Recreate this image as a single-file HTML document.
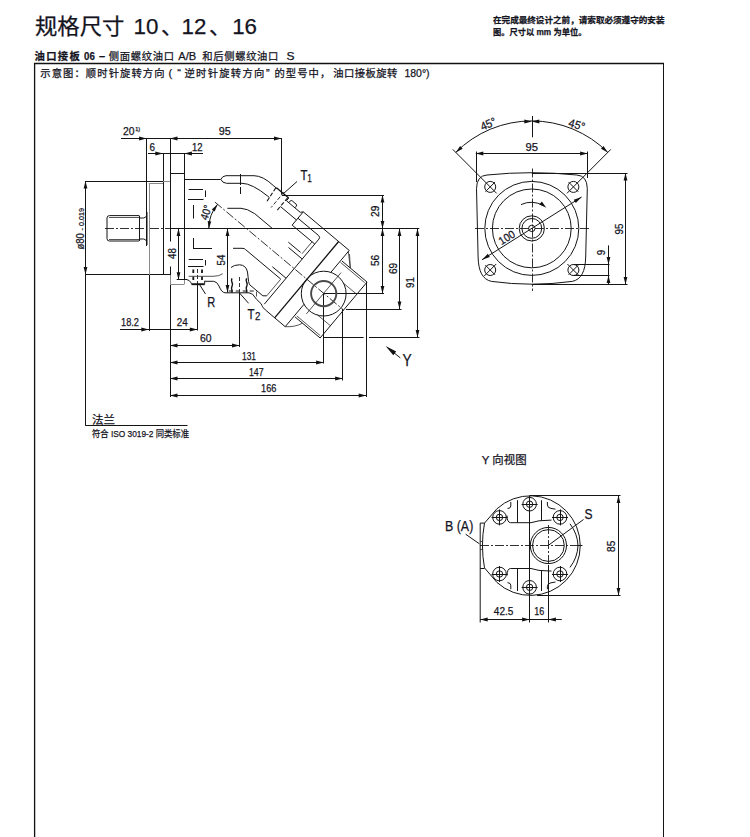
<!DOCTYPE html>
<html lang="zh"><head><meta charset="utf-8"><title>规格尺寸 10、12、16</title>
<style>
html,body{margin:0;padding:0;background:#fff}
body{width:750px;height:837px;overflow:hidden;font-family:"Liberation Sans","Noto Sans CJK SC",sans-serif}
svg{display:block}
.l{stroke:#151515;stroke-width:1;fill:none;stroke-linecap:butt}
.k{stroke:#111;stroke-width:1.3;fill:none}
.n{stroke:#2a2a2a;stroke-width:.8;fill:none}
.g{stroke:#8a8a8a;stroke-width:1;fill:none}
.d{stroke:#1a1a1a;stroke-width:.9;fill:none;stroke-dasharray:9 2 2 2}
.h{stroke:#1a1a1a;stroke-width:.9;fill:none;stroke-dasharray:4 2}
.a{fill:#111;stroke:none}
.t{fill:#14141e;stroke:#14141e;stroke-width:.25px;font-family:"Liberation Sans","Noto Sans CJK SC",sans-serif}
.b{font-weight:bold}
</style></head><body>
<svg width="750" height="837" viewBox="0 0 750 837">
<rect x="0" y="0" width="750" height="837" fill="#fff"/>
<line class="k" x1="34.6" y1="63" x2="34.6" y2="837" style="stroke-width:1.3"/>
<line class="k" x1="34" y1="63.5" x2="664" y2="63.5" style="stroke-width:1.3"/>
<line class="l" x1="663.5" y1="63" x2="663.5" y2="837"/>
<text class="t" x="35" y="34.3" font-size="22" textLength="89.5" lengthAdjust="spacingAndGlyphs">规格尺寸</text>
<text class="t" x="133.6" y="33.8" font-size="22.5" textLength="24.8" lengthAdjust="spacingAndGlyphs">10</text>
<text class="t" x="161" y="34.3" font-size="22">、</text>
<text class="t" x="181.6" y="33.8" font-size="22.5" textLength="24.8" lengthAdjust="spacingAndGlyphs">12</text>
<text class="t" x="209" y="34.3" font-size="22">、</text>
<text class="t" x="232.2" y="33.8" font-size="22.5" textLength="24.8" lengthAdjust="spacingAndGlyphs">16</text>
<text class="t b" x="34.6" y="59.5" font-size="10.3" textLength="45.1" lengthAdjust="spacing">油口接板</text>
<text class="t b" x="84" y="59.5" font-size="11" textLength="10.8" lengthAdjust="spacingAndGlyphs">06</text>
<text class="t b" x="99" y="59.5" font-size="11">–</text>
<text class="t" x="108.7" y="59.5" font-size="10.3" textLength="65.3" lengthAdjust="spacing">侧面螺纹油口</text>
<text class="t" x="178.3" y="59.5" font-size="11" textLength="18" lengthAdjust="spacingAndGlyphs">A/B</text>
<text class="t" x="202.2" y="59.5" font-size="10.3" textLength="76.2" lengthAdjust="spacing">和后侧螺纹油口</text>
<text class="t" x="286.6" y="59.5" font-size="11" textLength="8" lengthAdjust="spacingAndGlyphs">S</text>
<text class="t" x="40.3" y="77" font-size="10.3" textLength="124.2" lengthAdjust="spacing">示意图：顺时针旋转方向</text>
<text class="t" x="168.5" y="77" font-size="11">(</text>
<text class="t" x="177.3" y="77" font-size="11">“</text>
<text class="t" x="184.5" y="77" font-size="10.3" textLength="79.8" lengthAdjust="spacing">逆时针旋转方向</text>
<text class="t" x="266" y="77" font-size="11">”</text>
<text class="t" x="274.4" y="77" font-size="10.3" textLength="55.8" lengthAdjust="spacing">的型号中，</text>
<text class="t" x="333.2" y="77" font-size="10.3" textLength="64.2" lengthAdjust="spacing">油口接板旋转</text>
<text class="t" x="404.4" y="77" font-size="11" textLength="25.2" lengthAdjust="spacingAndGlyphs">180°)</text>
<text class="t b" x="493" y="23.3" font-size="8.5" textLength="171.5" lengthAdjust="spacingAndGlyphs">在完成最终设计之前，请索取必须遵守的安装</text>
<text class="t b" x="493" y="34.5" font-size="8.5" textLength="93.5" lengthAdjust="spacingAndGlyphs">图。尺寸以 mm 为单位。</text>
<line class="l" x1="121" y1="138.5" x2="281.5" y2="138.5"/>
<line class="l" x1="146.5" y1="138" x2="146.5" y2="246"/>
<line class="l" x1="170.5" y1="138" x2="170.5" y2="241.5"/>
<line class="l" x1="170.5" y1="266.5" x2="170.5" y2="397"/>
<line class="l" x1="281.5" y1="138" x2="281.5" y2="194.5"/>
<polygon class="a" points="146.6,138.5 139.1,140.4 139.1,136.6"/>
<polygon class="a" points="170,138.5 177.5,136.6 177.5,140.4"/>
<polygon class="a" points="281.5,138.5 274,140.4 274,136.6"/>
<text class="t" x="123" y="135" font-size="11" textLength="11.5" lengthAdjust="spacingAndGlyphs">20</text>
<text class="t" x="135.3" y="130.5" font-size="5.5">1)</text>
<text class="t" x="218.7" y="135" font-size="11" textLength="12" lengthAdjust="spacingAndGlyphs">95</text>
<line class="l" x1="148" y1="153.5" x2="203" y2="153.5"/>
<line class="l" x1="163.5" y1="153" x2="163.5" y2="275"/>
<line class="l" x1="184.5" y1="153" x2="184.5" y2="173"/>
<line class="l" x1="170" y1="173.5" x2="184.4" y2="173.5"/>
<polygon class="a" points="162.8,153.5 155.3,155.4 155.3,151.6"/>
<polygon class="a" points="184.4,153.5 191.9,151.6 191.9,155.4"/>
<text class="t" x="149.5" y="150.7" font-size="11" textLength="5.5" lengthAdjust="spacingAndGlyphs">6</text>
<text class="t" x="192" y="150.7" font-size="11" textLength="10.5" lengthAdjust="spacingAndGlyphs">12</text>
<line class="l" x1="85.5" y1="181" x2="85.5" y2="425.5"/>
<line class="l" x1="85" y1="181.5" x2="163" y2="181.5"/>
<line class="g" x1="163" y1="181.5" x2="170" y2="181.5"/>
<line class="l" x1="85" y1="274.5" x2="170" y2="274.5"/>
<polygon class="a" points="85.5,181 87.4,188.5 83.6,188.5"/>
<polygon class="a" points="85.5,274.4 83.6,266.9 87.4,266.9"/>
<text class="t" transform="translate(84,249.5) rotate(-90)" font-size="10.5" textLength="41.5" lengthAdjust="spacingAndGlyphs">ø80 <tspan font-size="8" dy="-0.5">- 0.019</tspan></text>
<line class="d" x1="105" y1="228.5" x2="170" y2="228.5"/>
<line class="l" x1="170" y1="228.5" x2="419.3" y2="228.5"/>
<line class="l" x1="178.5" y1="228.4" x2="178.5" y2="279.7"/>
<polygon class="a" points="178.5,228.4 180.4,235.9 176.6,235.9"/>
<polygon class="a" points="178.5,279.7 176.6,272.2 180.4,272.2"/>
<text class="t" x="176" y="253.6" font-size="10.5" text-anchor="middle" transform="rotate(-90 176 253.6)" textLength="10.8" lengthAdjust="spacingAndGlyphs">48</text>
<line class="l" x1="227.5" y1="228.4" x2="227.5" y2="292.5"/>
<polygon class="a" points="227.5,228.4 229.4,235.9 225.6,235.9"/>
<polygon class="a" points="227.5,292.5 225.6,285 229.4,285"/>
<text class="t" x="225" y="260" font-size="10.5" text-anchor="middle" transform="rotate(-90 225 260)" textLength="10.8" lengthAdjust="spacingAndGlyphs">54</text>
<line class="l" x1="282" y1="195.5" x2="384" y2="195.5"/>
<line class="l" x1="382.5" y1="195" x2="382.5" y2="293.4"/>
<polygon class="a" points="382.5,195 384.4,202.5 380.6,202.5"/>
<polygon class="a" points="382.5,228.4 380.6,220.9 384.4,220.9"/>
<polygon class="a" points="382.5,228.4 384.4,235.9 380.6,235.9"/>
<polygon class="a" points="382.5,293.4 380.6,285.9 384.4,285.9"/>
<text class="t" x="379" y="211.2" font-size="10.5" text-anchor="middle" transform="rotate(-90 379 211.2)" textLength="11.4" lengthAdjust="spacingAndGlyphs">29</text>
<text class="t" x="379" y="260.5" font-size="10.5" text-anchor="middle" transform="rotate(-90 379 260.5)" textLength="11.2" lengthAdjust="spacingAndGlyphs">56</text>
<line class="l" x1="323.5" y1="293.5" x2="384" y2="293.5"/>
<line class="l" x1="399.5" y1="228.4" x2="399.5" y2="309"/>
<polygon class="a" points="399.5,228.4 401.4,235.9 397.6,235.9"/>
<polygon class="a" points="399.5,309 397.6,301.5 401.4,301.5"/>
<line class="l" x1="346" y1="309.5" x2="401.5" y2="309.5"/>
<text class="t" x="396.6" y="268.4" font-size="10.5" text-anchor="middle" transform="rotate(-90 396.6 268.4)" textLength="11.2" lengthAdjust="spacingAndGlyphs">69</text>
<line class="l" x1="417.5" y1="228.4" x2="417.5" y2="337.6"/>
<polygon class="a" points="417.5,228.4 419.4,235.9 415.6,235.9"/>
<polygon class="a" points="417.5,337.6 415.6,330.1 419.4,330.1"/>
<line class="l" x1="323.6" y1="337.5" x2="363.6" y2="337.5"/>
<line class="l" x1="369" y1="337.5" x2="419.5" y2="337.5"/>
<text class="t" x="414.4" y="282.6" font-size="10.5" text-anchor="middle" transform="rotate(-90 414.4 282.6)" textLength="10.8" lengthAdjust="spacingAndGlyphs">91</text>
<line class="l" x1="120" y1="329.5" x2="197.3" y2="329.5"/>
<line class="l" x1="149.5" y1="275" x2="149.5" y2="331"/>
<line class="g" x1="149.5" y1="183" x2="149.5" y2="275"/>
<line class="l" x1="197.5" y1="284" x2="197.5" y2="330.5"/>
<polygon class="a" points="148.8,329.5 141.3,331.4 141.3,327.6"/>
<polygon class="a" points="197.3,329.5 189.8,331.4 189.8,327.6"/>
<text class="t" x="121" y="325.5" font-size="11" textLength="18" lengthAdjust="spacingAndGlyphs">18.2</text>
<text class="t" x="176.7" y="325.5" font-size="11" textLength="11" lengthAdjust="spacingAndGlyphs">24</text>
<line class="l" x1="170" y1="345.5" x2="239.5" y2="345.5"/>
<polygon class="a" points="170,345.5 177.5,343.6 177.5,347.4"/>
<polygon class="a" points="239.5,345.5 232,347.4 232,343.6"/>
<line class="l" x1="239.5" y1="293" x2="239.5" y2="347"/>
<text class="t" x="200" y="342.4" font-size="11" textLength="11.6" lengthAdjust="spacingAndGlyphs">60</text>
<line class="l" x1="170" y1="362.5" x2="323.6" y2="362.5"/>
<polygon class="a" points="170,362.5 177.5,360.6 177.5,364.4"/>
<polygon class="a" points="323.6,362.5 316.1,364.4 316.1,360.6"/>
<line class="l" x1="323.5" y1="293.4" x2="323.5" y2="363.5"/>
<text class="t" x="242" y="359.8" font-size="11" textLength="14" lengthAdjust="spacingAndGlyphs">131</text>
<line class="l" x1="170" y1="378.5" x2="342.6" y2="378.5"/>
<polygon class="a" points="170,378.5 177.5,376.6 177.5,380.4"/>
<polygon class="a" points="342.6,378.5 335.1,380.4 335.1,376.6"/>
<line class="l" x1="342.5" y1="309" x2="342.5" y2="380.5"/>
<text class="t" x="249" y="375.7" font-size="11" textLength="14.6" lengthAdjust="spacingAndGlyphs">147</text>
<line class="l" x1="170" y1="395.5" x2="366.2" y2="395.5"/>
<polygon class="a" points="170,395.5 177.5,393.6 177.5,397.4"/>
<polygon class="a" points="366.2,395.5 358.7,397.4 358.7,393.6"/>
<line class="l" x1="366.5" y1="282" x2="366.5" y2="397"/>
<text class="t" x="261" y="392" font-size="11" textLength="15.4" lengthAdjust="spacingAndGlyphs">166</text>
<line class="l" x1="85.3" y1="425.5" x2="187.5" y2="425.5"/>
<text class="t" x="92" y="423.8" font-size="11" textLength="23" lengthAdjust="spacingAndGlyphs">法兰</text>
<text class="t" x="92" y="437" font-size="9.5" textLength="97" lengthAdjust="spacingAndGlyphs">符合 ISO 3019-2 同类标准</text>
<line class="l" x1="394" y1="352.8" x2="400.3" y2="357.9"/>
<polygon class="a" points="385.6,345.9 396.2,351.58 393.29,355.14"/>
<text class="t" x="402.6" y="366.4" font-size="17" textLength="9.2" lengthAdjust="spacingAndGlyphs">Y</text>
<text class="t" x="207.2" y="306.5" font-size="14.5" textLength="8" lengthAdjust="spacingAndGlyphs">R</text>
<line class="l" x1="199" y1="283.7" x2="205.5" y2="294"/>
<text class="t" x="247.6" y="318.5" font-size="14.5" textLength="7" lengthAdjust="spacingAndGlyphs">T</text>
<text class="t" x="255" y="320.3" font-size="11.5" textLength="5.4" lengthAdjust="spacingAndGlyphs">2</text>
<line class="l" x1="239.5" y1="293" x2="248.6" y2="303.3"/>
<text class="t" x="300.5" y="179.6" font-size="14.5" textLength="7" lengthAdjust="spacingAndGlyphs">T</text>
<text class="t" x="307.2" y="182.3" font-size="11" textLength="4.6" lengthAdjust="spacingAndGlyphs">1</text>
<line class="l" x1="297" y1="181.5" x2="283" y2="194"/>
<path class="l" d="M139,215.6 H109.5 Q107,215.6 107,218 V238.6 Q107,241 109.5,241 H139"/>
<line class="n" x1="109" y1="217.5" x2="139" y2="217.5"/>
<line class="n" x1="109" y1="239.5" x2="139" y2="239.5"/>
<line class="l" x1="139.5" y1="215.6" x2="139.5" y2="241"/>
<path class="l" d="M139,218 H143.5 Q147,217.5 147.6,212"/>
<path class="l" d="M139,239 H143.5 Q147,239.5 147.6,245"/>
<line class="g" x1="147.5" y1="212" x2="147.5" y2="245"/>
<line class="g" x1="148.8" y1="183.5" x2="163" y2="183.5"/>
<line class="g" x1="170" y1="284.5" x2="184.4" y2="284.5"/>
<line class="g" x1="184.5" y1="279.7" x2="184.5" y2="284"/>
<line class="g" x1="170.5" y1="275" x2="170.5" y2="284"/>
<line class="l" x1="184.5" y1="173" x2="184.5" y2="280"/>
<line class="l" x1="184.6" y1="179.5" x2="220.5" y2="179.5"/>
<line class="l" x1="176.7" y1="279.5" x2="187" y2="279.5"/>
<path class="l" d="M220.8,179.4 Q222.3,176 226,175.7 H254 Q263,175.8 273.21,185.45 L277.04,188.66"/>
<path class="l" d="M220.8,179.4 Q222.3,183 226.5,183.3 H242 Q252,183.4 267.98,196.34 L269.52,197.62"/>
<line class="l" x1="240.5" y1="174" x2="240.5" y2="185"/>
<line class="l" x1="240.5" y1="187" x2="240.5" y2="194"/>
<line class="k" x1="276.46" y1="187.79" x2="288.72" y2="198.07"/>
<line class="h" style="stroke-width:1.1" x1="275.76" y1="187.85" x2="266.68" y2="201.77"/>
<line class="h" x1="284.01" y1="192.17" x2="271.16" y2="207.49"/>
<line class="h" style="stroke-width:1.1" x1="287.63" y1="197.81" x2="276.7" y2="210.83"/>
<line class="l" x1="288.72" y1="198.07" x2="286.47" y2="200.75"/>
<line class="l" x1="286.47" y1="200.75" x2="300.26" y2="212.32"/>
<path class="l" d="M288.77,202.68 L290.25,200.92 Q291.08,199.92 292.23,200.89 L296.06,204.1 Q297.21,205.07 296.37,206.06 L294.9,207.82"/>
<line class="l" x1="300.26" y1="212.32" x2="303.27" y2="211.85"/>
<line class="l" x1="303.27" y1="211.85" x2="349.23" y2="250.41"/>
<line class="l" x1="280.37" y1="206.47" x2="296.46" y2="219.97"/>
<line class="l" x1="303.27" y1="211.85" x2="292.15" y2="225.1"/>
<path class="l" d="M297.93,218.2 L318.62,235.56 Q320.53,237.17 318.93,239.08 L264.29,304.2"/>
<line class="l" x1="292.15" y1="225.1" x2="314.75" y2="244.06"/>
<line class="n" x1="312.07" y1="241.81" x2="302.1" y2="253.68"/>
<line class="n" x1="280.57" y1="279.35" x2="266.75" y2="295.82"/>
<path class="l" d="M227.3,208.3 H241 Q247,208.4 254.74,213.68 L272.36,228.46"/>
<line class="l" x1="288.31" y1="242.11" x2="300.57" y2="252.4"/>
<line class="l" x1="288.5" y1="247.49" x2="302.21" y2="259"/>
<path class="l" d="M233,248.3 H242 Q245,248.4 245.52,249.55 L280.76,279.12"/>
<line class="l" x1="272.37" y1="266.72" x2="286.08" y2="278.23"/>
<line class="d" x1="214.89" y1="202.05" x2="343.59" y2="310.03"/>
<path class="l" d="M208.8,228.4 A37.5 37.5 0 0 1 217.57,204.3"/>
<polygon class="a" points="208.8,228.7 207.66,221.07 211.25,221.39"/>
<polygon class="a" points="217.57,204.3 214.75,211.47 211.8,209.41"/>
<text class="t" x="209.5" y="213.5" font-size="11" text-anchor="middle" transform="rotate(-72 209.5 213.5)" textLength="15" lengthAdjust="spacingAndGlyphs">40°</text>
<line class="l" x1="188.7" y1="189.5" x2="203" y2="189.5"/>
<line class="l" x1="205.5" y1="190.5" x2="205.5" y2="197"/>
<line class="l" x1="188" y1="199.5" x2="203.5" y2="199.5"/>
<line class="l" x1="193.5" y1="205" x2="193.5" y2="218.5"/>
<line class="l" x1="193.5" y1="238" x2="193.5" y2="249"/>
<line class="l" x1="193.5" y1="248.5" x2="212" y2="248.5"/>
<line class="l" x1="188.7" y1="259.5" x2="203" y2="259.5"/>
<line class="l" x1="205.5" y1="260" x2="205.5" y2="265.5"/>
<line class="l" x1="188" y1="266.5" x2="203.5" y2="266.5"/>
<path class="l" d="M193.3,269.5 V283 M202,269.5 V283" style="stroke-width:1.8;stroke-dasharray:3.4 3.6"/>
<line class="h" x1="197.5" y1="269" x2="197.5" y2="284"/>
<path class="l" d="M187,279.7 Q189.5,280 190.7,282.3 L191.5,283.8 H204.7 V281 L206,281.3 H213.5 Q217,281.5 219,286 Q221.5,292.5 225,292.8 H249 L252.7,294.3"/>
<line class="k" x1="191.5" y1="284.5" x2="204.7" y2="284.5"/>
<path class="n" d="M188.7,276.3 H213 Q219.5,276.3 222.7,273.7"/>
<path class="l" style="stroke-width:1.5" d="M232,278.3 q-1.2,2 0,4 q1.2,2 0,4 q-1.2,2 0,4 v2.5"/>
<line class="h" x1="239.5" y1="277" x2="239.5" y2="293"/>
<path class="l" style="stroke-width:1.5" d="M246.7,278.3 q-1.2,2 0,4 q1.2,2 0,4 q-1.2,2 0,4 v2.5"/>
<path class="l" d="M231,267.5 Q234,264.8 239.5,264.8 Q246,265 247.5,272 Q248.3,279 248.6,281.5 Q249,283.5 249.82,284.88 L262.84,295.8 L266.75,295.82"/>
<path class="l" d="M228.7,291 H254.5" style="stroke-dasharray:4 3"/>
<line class="n" x1="256.5" y1="291.5" x2="256.5" y2="296.5"/>
<path class="l" d="M252.7,294.3 L256.5,299.3 L261,303.6 Q262,305.5 262.6,306.8 Q263,307.5 265.36,309.92 L285.21,326.71"/>
<line class="k" x1="338.66" y1="241.54" x2="274.64" y2="317.84"/>
<path class="l" d="M349.23,250.41 L331.04,272.09"/>
<line class="l" x1="304.04" y1="304.27" x2="285.21" y2="326.71"/>
<path class="n" d="M348.3,251.3 L350.3,267.8 L349.5,254"/>
<line class="l" x1="342" y1="261.05" x2="367.05" y2="282.07"/>
<line class="n" x1="340.48" y1="262.39" x2="364.61" y2="282.64"/>
<line class="l" x1="295.08" y1="316.98" x2="320.13" y2="337.99"/>
<line class="n" x1="296.83" y1="315.97" x2="320.2" y2="335.57"/>
<line class="l" x1="367.05" y1="282.07" x2="320.13" y2="337.99"/>
<line class="n" x1="343.9" y1="283.53" x2="356.76" y2="294.33"/>
<line class="n" x1="317.54" y1="314.94" x2="330.41" y2="325.74"/>
<path class="n" d="M285.21,326.71 Q295,327.2 302.51,323.21"/>
<circle class="l" cx="323.7" cy="293.6" r="22.4"/>
<circle class="k" style="stroke:#4a4a4a;stroke-width:1.9" cx="323.7" cy="293.6" r="12.6"/>
<line class="n" x1="341.03" y1="272.64" x2="306.32" y2="314"/>
<line class="l" x1="532.5" y1="116" x2="532.5" y2="137.3"/>
<line class="d" x1="532.5" y1="168.5" x2="532.5" y2="291"/>
<line class="d" x1="475" y1="228.5" x2="590" y2="228.5"/>
<path class="l" d="M476.5,188.5 Q476.7,175.7 487,175 Q531.8,170.4 576.8,175 Q587.1,175.7 587.3,188.5 L585.7,257 C585.3,271.5 581.3,279.4 572.3,281.4 Q531.8,287 491.5,281.4 C482.5,279.4 478.5,271.5 478.1,257 Z"/>
<circle class="l" cx="531.8" cy="228.4" r="47"/>
<circle class="l" cx="531.8" cy="228.4" r="39.4"/>
<circle class="l" cx="531.8" cy="228.4" r="12.6"/>
<circle class="l" cx="531.8" cy="228.4" r="9.9"/>
<circle class="l" cx="531.8" cy="228.4" r="3.2"/>
<circle class="l" cx="490.2" cy="186.9" r="5.5"/>
<line class="l" x1="485.4" y1="191.7" x2="495" y2="182.1"/>
<circle class="l" cx="490.2" cy="270" r="5.5"/>
<line class="l" x1="485.4" y1="265.2" x2="495" y2="274.8"/>
<circle class="l" cx="573.4" cy="186.9" r="5.5"/>
<line class="l" x1="578.2" y1="191.7" x2="568.6" y2="182.1"/>
<circle class="l" cx="573.4" cy="270" r="5.5"/>
<line class="l" x1="578.2" y1="265.2" x2="568.6" y2="274.8"/>
<line class="l" x1="484.2" y1="276" x2="496.2" y2="264"/>
<line class="l" x1="567.4" y1="264" x2="579.4" y2="276"/>
<line class="l" x1="476.5" y1="151.5" x2="476.5" y2="182"/>
<line class="l" x1="587.5" y1="151.5" x2="587.5" y2="178"/>
<line class="l" x1="475.8" y1="153.5" x2="587.6" y2="153.5"/>
<polygon class="a" points="475.8,153.5 483.3,151.6 483.3,155.4"/>
<polygon class="a" points="587.6,153.5 580.1,155.4 580.1,151.6"/>
<text class="t" x="525.4" y="150.5" font-size="11" textLength="12.5" lengthAdjust="spacingAndGlyphs">95</text>
<path class="l" d="M455.79,152.39 A107.5 107.5 0 0 1 607.81,152.39"/>
<line class="l" x1="452.79" y1="149.39" x2="496.7" y2="193.4"/>
<line class="l" x1="610.81" y1="149.39" x2="566.9" y2="193.4"/>
<polygon class="a" points="455.79,152.39 460.09,145.96 462.63,148.78"/>
<polygon class="a" points="607.81,152.39 600.97,148.78 603.51,145.96"/>
<polygon class="a" points="531.8,121.5 539.3,119.6 539.3,123.4"/>
<polygon class="a" points="531.8,121.5 524.3,123.4 524.3,119.6"/>
<text class="t" x="489.8" y="127.6" font-size="11.5" text-anchor="middle" transform="rotate(-23 489.8 127.6)" textLength="16" lengthAdjust="spacingAndGlyphs">45°</text>
<text class="t" x="575.8" y="128.6" font-size="11.5" text-anchor="middle" transform="rotate(16 575.8 128.6)" textLength="16.5" lengthAdjust="spacingAndGlyphs">45°</text>
<line class="l" x1="482.04" y1="259.73" x2="581.56" y2="197.07"/>
<polygon class="a" points="482.04,259.73 487.8,253.86 489.83,257.08"/>
<polygon class="a" points="581.56,197.07 575.8,202.94 573.77,199.72"/>
<text class="t" x="508.8" y="240.8" font-size="11" text-anchor="middle" transform="rotate(-32.2 508.8 240.8)" textLength="17" lengthAdjust="spacingAndGlyphs">100</text>
<path class="l" d="M521,204.6 Q532,199.5 543.5,205.5"/>
<polygon class="a" points="546.3,207.8 539.27,204.51 541.84,201.45"/>
<line class="l" x1="531.8" y1="173.5" x2="627.5" y2="173.5"/>
<line class="l" x1="531.8" y1="284.5" x2="627.5" y2="284.5"/>
<line class="l" x1="625.5" y1="173" x2="625.5" y2="284.4"/>
<polygon class="a" points="625.5,173 627.4,180.5 623.6,180.5"/>
<polygon class="a" points="625.5,284.4 623.6,276.9 627.4,276.9"/>
<text class="t" x="623" y="229.1" font-size="10.5" text-anchor="middle" transform="rotate(-90 623 229.1)" textLength="10.8" lengthAdjust="spacingAndGlyphs">95</text>
<line class="l" x1="573.4" y1="264.5" x2="609.5" y2="264.5"/>
<line class="l" x1="573.4" y1="275.5" x2="609.5" y2="275.5"/>
<line class="l" x1="608.5" y1="245.4" x2="608.5" y2="284.4"/>
<polygon class="a" points="608.5,264.6 606.6,257.1 610.4,257.1"/>
<polygon class="a" points="608.5,275.4 610.4,282.9 606.6,282.9"/>
<text class="t" x="605" y="252.6" font-size="10.5" text-anchor="middle" transform="rotate(-90 605 252.6)" textLength="5.4" lengthAdjust="spacingAndGlyphs">9</text>
<text class="t" x="481.8" y="464" font-size="11" textLength="44.8" lengthAdjust="spacingAndGlyphs">Y 向视图</text>
<line class="l" x1="529.5" y1="495.6" x2="529.5" y2="622.5"/>
<line class="d" x1="480" y1="545.5" x2="582.5" y2="545.5"/>
<line class="d" x1="548.5" y1="525" x2="548.5" y2="565"/>
<line class="l" x1="548.5" y1="565" x2="548.5" y2="622.5"/>
<path class="l" d="M484.5,523.1 L496.9,508.8 A49.8 49.8 0 1 1 496.9,582.4 L484.5,567.9"/>
<path class="l" d="M484.5,523.1 Q480.4,545.5 484.5,567.9"/>
<path class="l" d="M484.5,523.1 H480.2 V622.5"/>
<line class="n" x1="480.2" y1="541.5" x2="483" y2="541.5"/>
<line class="n" x1="480.2" y1="549.5" x2="483" y2="549.5"/>
<line class="l" x1="480.2" y1="568.5" x2="484.5" y2="568.5"/>
<path class="l" d="M570,523.8000000000001 Q577.5,533.6 578,545.6 Q577.5,557.6 570,567.4"/>
<line class="l" x1="577" y1="545.5" x2="582" y2="545.5"/>
<circle class="l" cx="548.4" cy="545.5" r="18.1"/>
<circle class="l" cx="548.4" cy="545.5" r="15.9"/>
<circle class="l" cx="529.6" cy="504.2" r="6.8"/>
<circle class="l" cx="529.6" cy="504.2" r="3.2"/>
<line class="l" x1="521.6" y1="504.5" x2="537.6" y2="504.5"/>
<line class="l" x1="529.5" y1="496.2" x2="529.5" y2="512.2"/>
<circle class="l" cx="499.5" cy="517.4" r="6.8"/>
<circle class="l" cx="499.5" cy="517.4" r="3.2"/>
<line class="l" x1="491.5" y1="517.5" x2="507.5" y2="517.5"/>
<line class="l" x1="499.5" y1="509.4" x2="499.5" y2="525.4"/>
<circle class="l" cx="560" cy="517.4" r="6.8"/>
<circle class="l" cx="560" cy="517.4" r="3.2"/>
<line class="l" x1="552" y1="517.5" x2="568" y2="517.5"/>
<line class="l" x1="560.5" y1="509.4" x2="560.5" y2="525.4"/>
<circle class="l" cx="499.5" cy="574" r="6.8"/>
<circle class="l" cx="499.5" cy="574" r="3.2"/>
<line class="l" x1="491.5" y1="574.5" x2="507.5" y2="574.5"/>
<line class="l" x1="499.5" y1="566" x2="499.5" y2="582"/>
<circle class="l" cx="560" cy="574" r="6.8"/>
<circle class="l" cx="560" cy="574" r="3.2"/>
<line class="l" x1="552" y1="574.5" x2="568" y2="574.5"/>
<line class="l" x1="560.5" y1="566" x2="560.5" y2="582"/>
<circle class="l" cx="529.6" cy="587.3" r="6.8"/>
<circle class="l" cx="529.6" cy="587.3" r="3.2"/>
<line class="l" x1="521.6" y1="587.5" x2="537.6" y2="587.5"/>
<line class="l" x1="529.5" y1="579.3" x2="529.5" y2="595.3"/>
<path class="l" d="M510.8,502 V506 Q510.8,508.3 507.5,508.6"/>
<line class="l" x1="517.5" y1="500.2" x2="517.5" y2="522.6"/>
<path class="l" d="M507,515.6 Q507.2,522.6 510.5,522.7 H531 L539,520.8 L551.5,520.1"/>
<line class="l" x1="541.5" y1="500.2" x2="541.5" y2="520.6"/>
<path class="l" d="M547.4,502 V505 Q547.6,508 551,508.4 L555.5,509.2"/>
<path class="l" d="M510.8,589.2 V585.2 Q510.8,582.9 507.5,582.6"/>
<line class="l" x1="517.5" y1="591" x2="517.5" y2="568.6"/>
<path class="l" d="M507,575.6 Q507.2,568.6 510.5,568.5 H531 L539,570.4 L551.5,571.1"/>
<line class="l" x1="541.5" y1="591" x2="541.5" y2="570.6"/>
<path class="l" d="M547.4,589.2 V586.2 Q547.6,583.2 551,582.8 L555.5,582"/>
<line class="l" x1="529.6" y1="495.5" x2="620.5" y2="495.5"/>
<line class="l" x1="537" y1="595.5" x2="620.5" y2="595.5"/>
<line class="l" x1="618.5" y1="495.6" x2="618.5" y2="595.4"/>
<polygon class="a" points="618.5,495.6 620.4,503.1 616.6,503.1"/>
<polygon class="a" points="618.5,595.4 616.6,587.9 620.4,587.9"/>
<text class="t" x="615.2" y="546.3" font-size="10.5" text-anchor="middle" transform="rotate(-90 615.2 546.3)" textLength="11.2" lengthAdjust="spacingAndGlyphs">85</text>
<line class="l" x1="480.2" y1="619.5" x2="561.8" y2="619.5"/>
<polygon class="a" points="480.2,619.5 487.7,617.6 487.7,621.4"/>
<polygon class="a" points="529.6,619.5 522.1,621.4 522.1,617.6"/>
<polygon class="a" points="548.4,619.5 555.9,617.6 555.9,621.4"/>
<text class="t" x="493.8" y="615.3" font-size="11" textLength="19.6" lengthAdjust="spacingAndGlyphs">42.5</text>
<text class="t" x="534.2" y="615.3" font-size="11" textLength="10" lengthAdjust="spacingAndGlyphs">16</text>
<text class="t" x="584.6" y="519" font-size="14.5" textLength="8" lengthAdjust="spacingAndGlyphs">S</text>
<line class="l" x1="583.5" y1="519.5" x2="548.4" y2="545.3"/>
<text class="t" x="445" y="531.3" font-size="14.5" textLength="28.3" lengthAdjust="spacingAndGlyphs">B (A)</text>
<line class="l" x1="465.6" y1="534.2" x2="479.4" y2="543.8"/>
</svg>
</body></html>
